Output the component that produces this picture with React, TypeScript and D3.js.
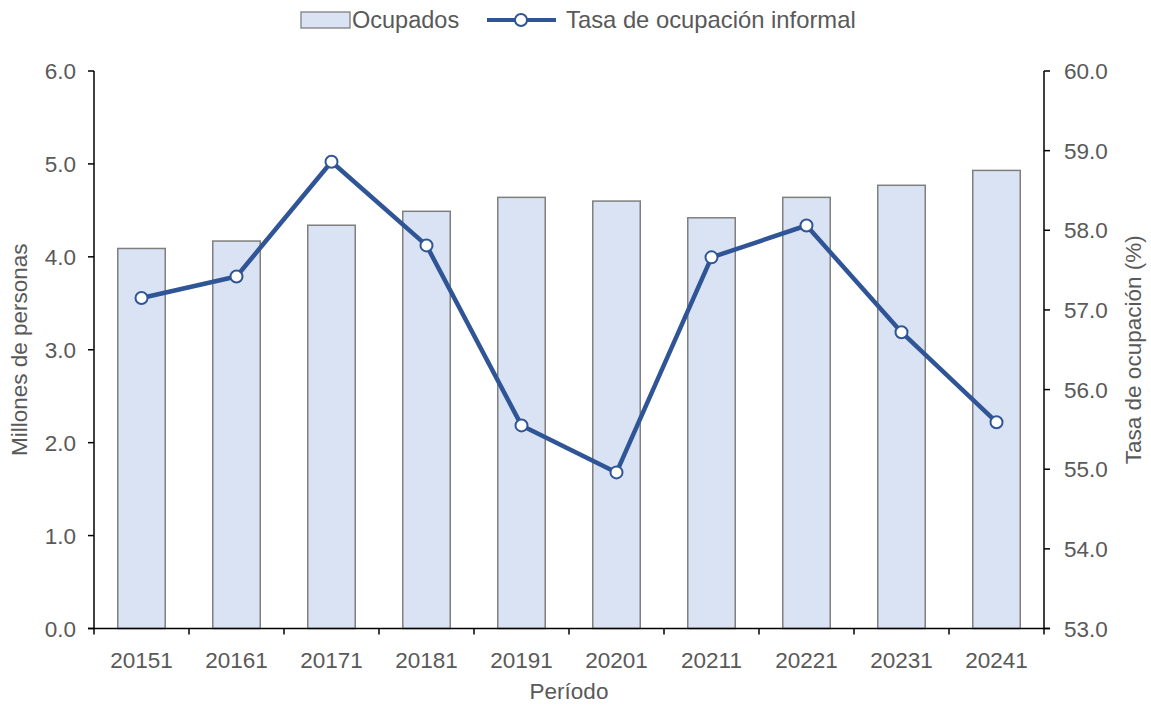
import * as d3 from "d3";

const periodos = ["20151", "20161", "20171", "20181", "20191", "20201", "20211", "20221", "20231", "20241"];
const ocupados = [4.09, 4.17, 4.34, 4.49, 4.64, 4.6, 4.42, 4.64, 4.77, 4.93];
const tasaInformal = [57.15, 57.42, 58.86, 57.81, 55.55, 54.96, 57.66, 58.06, 56.72, 55.59];
const leftTicks = [0, 1, 2, 3, 4, 5, 6];
const rightTicks = [53, 54, 55, 56, 57, 58, 59, 60];

export default function App() {
  const width = 1151;
  const height = 705;
  const left = 94;
  const right = 1044;
  const top = 71;
  const bottom = 628.5;
  const font = "'Liberation Sans', Arial, sans-serif";
  const grey = "#595959";
  const blue = "#2f5597";

  const x = d3.scaleBand<string>().domain(periodos).range([left, right]).paddingInner(0.5).paddingOuter(0.25);
  const yL = d3.scaleLinear().domain([0, 6]).range([bottom, top]);
  const yR = d3.scaleLinear().domain([53, 60]).range([bottom, top]);
  const step = x.step();

  const line = d3
    .line<number>()
    .x((_, i) => x(periodos[i])! + x.bandwidth() / 2)
    .y((d) => yR(d));

  return (
    <svg width={width} height={height} style={{ position: "absolute", left: 0, top: 0 }} fontFamily={font}>
      {/* legend */}
      <g>
        <rect x={301} y={12} width={49} height={16} fill="#dae3f3" stroke="#7f7f7f" strokeWidth={1.3} />
        <text x={352} y={28} fontSize={23.5} fill={grey}>Ocupados</text>
        <line x1={487} x2={556} y1={20} y2={20} stroke={blue} strokeWidth={4} />
        <circle cx={521} cy={20} r={6} fill="#fff" stroke={blue} strokeWidth={2} />
        <text x={566} y={28} fontSize={23.8} fill={grey}>Tasa de ocupación informal</text>
      </g>

      {/* bars */}
      {ocupados.map((v, i) => (
        <rect
          key={periodos[i]}
          x={x(periodos[i])}
          y={yL(v)}
          width={x.bandwidth()}
          height={yL(0) - yL(v)}
          fill="#dae3f3"
          stroke="#7f7f7f"
          strokeWidth={1.5}
        />
      ))}

      {/* axes */}
      <g stroke="#000" strokeWidth={1.5} fill="none">
        <line x1={left} x2={left} y1={top} y2={bottom} />
        <line x1={right} x2={right} y1={top} y2={bottom} />
        <line x1={left - 6} x2={right + 6} y1={bottom} y2={bottom} />
        {leftTicks.map((t) => (
          <line key={"l" + t} x1={left - 6} x2={left} y1={yL(t)} y2={yL(t)} />
        ))}
        {rightTicks.map((t) => (
          <line key={"r" + t} x1={right} x2={right + 6} y1={yR(t)} y2={yR(t)} />
        ))}
        {d3.range(periodos.length + 1).map((i) => (
          <line key={"x" + i} x1={left + i * step} x2={left + i * step} y1={bottom} y2={bottom + 6} />
        ))}
      </g>

      <g fontSize={22.5} fill={grey}>
        {leftTicks.map((t) => (
          <text key={"lt" + t} x={left - 18} y={yL(t) + 8} textAnchor="end">
            {t.toFixed(1)}
          </text>
        ))}
        {rightTicks.map((t) => (
          <text key={"rt" + t} x={right + 20} y={yR(t) + 8}>
            {t.toFixed(1)}
          </text>
        ))}
        {periodos.map((p) => (
          <text key={p} x={x(p)! + x.bandwidth() / 2} y={668} textAnchor="middle">
            {p}
          </text>
        ))}
        <text x={(left + right) / 2} y={699} textAnchor="middle">Período</text>
        <text transform={`translate(27,${(top + bottom) / 2}) rotate(-90)`} textAnchor="middle">
          Millones de personas
        </text>
        <text transform={`translate(1141,${(top + bottom) / 2}) rotate(-90)`} textAnchor="middle">
          Tasa de ocupación (%)
        </text>
      </g>

      {/* line */}
      <path d={line(tasaInformal) ?? ""} fill="none" stroke={blue} strokeWidth={4.5} strokeLinejoin="round" />
      {tasaInformal.map((v, i) => (
        <circle
          key={"c" + i}
          cx={x(periodos[i])! + x.bandwidth() / 2}
          cy={yR(v)}
          r={6}
          fill="#fff"
          stroke={blue}
          strokeWidth={2}
        />
      ))}
    </svg>
  );
}
